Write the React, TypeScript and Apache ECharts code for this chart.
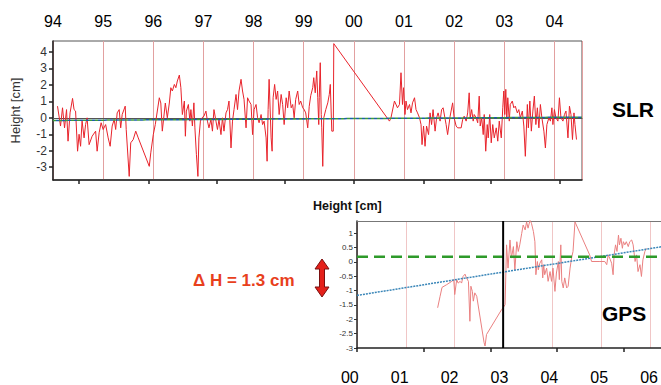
import React, { useEffect, useRef } from 'react';
import * as echarts from 'echarts';

// ---------- SLR (top panel) ----------
const SLR_POINTS: [number, number][] = [
  [1994.09, 0.71], [1994.15, -0.5], [1994.19, 0.61], [1994.23, -0.61], [1994.27, 0.5], [1994.30, -1.42], [1994.34, 0.3], [1994.39, 1.18],
  [1994.42, 0.5], [1994.45, 0.41], [1994.49, -2.03], [1994.52, -1.0], [1994.55, -1.73], [1994.58, -0.2], [1994.62, -1.22], [1994.65, -0.41],
  [1994.68, 0], [1994.72, -1.63], [1994.78, -1.12], [1994.85, -0.81], [1994.88, -2.03], [1994.92, -0.91], [1994.96, -0.3], [1995.00, -0.71],
  [1995.05, -0.41], [1995.10, -1.22], [1995.14, -1.73], [1995.18, -0.5], [1995.22, -0.1], [1995.25, -0.71], [1995.28, 0.3], [1995.32, 0.5],
  [1995.35, -0.61], [1995.38, 0.2], [1995.44, 0.71], [1995.46, -0.71], [1995.52, -3.56], [1995.55, -1.52], [1995.60, -1.32], [1995.65, -0.81],
  [1995.70, -1.22], [1995.92, -2.95], [1995.95, -2.13], [1996.00, -1.02], [1996.04, -0.41], [1996.12, 1.22], [1996.15, 0.9], [1996.18, -0.81],
  [1996.24, 0.9], [1996.28, 0], [1996.32, 0.9], [1996.35, 1.83], [1996.38, 1.63], [1996.42, 2.03], [1996.45, 1.83], [1996.48, 2.24],
  [1996.52, 2.6], [1996.55, 1.83], [1996.58, 0.2], [1996.62, 1.02], [1996.64, -1.12], [1996.66, 0.41], [1996.70, 0.81], [1996.73, -0.2],
  [1996.75, 0.5], [1996.78, -0.5], [1996.81, 0.91], [1996.83, -0.61], [1996.86, -2.24], [1996.89, -3.56], [1996.91, -1.22], [1996.94, -0.2],
  [1996.97, 0], [1997.01, 0.1], [1997.05, 0.41], [1997.08, -0.2], [1997.11, -0.61], [1997.15, -0.1], [1997.18, -0.81], [1997.21, 0.5],
  [1997.25, -0.2], [1997.28, -0.71], [1997.31, -0.1], [1997.35, -1.02], [1997.38, 0], [1997.41, -0.81], [1997.45, 0.3], [1997.48, 0.5],
  [1997.51, 1.02], [1997.55, -1.83], [1997.58, -0.2], [1997.61, 0.5], [1997.65, 1.42], [1997.68, 0.5], [1997.71, 1.63], [1997.75, 2.34],
  [1997.78, 1.63], [1997.81, 1.12], [1997.85, -0.61], [1997.88, 1.22], [1997.91, 1.02], [1997.95, 0.81], [1997.98, -1.02], [1998.01, 0.5],
  [1998.05, 0.81], [1998.08, 0], [1998.11, -0.3], [1998.15, 0.2], [1998.18, -0.41], [1998.21, -0.2], [1998.25, -1.22], [1998.27, -2.64],
  [1998.29, 0.5], [1998.31, 2.34], [1998.35, -1.22], [1998.37, -2.03], [1998.39, 1.22], [1998.42, 2.03], [1998.45, 1.12], [1998.48, 1.63],
  [1998.51, 0.2], [1998.55, 1.42], [1998.58, 0.81], [1998.61, -0.41], [1998.65, 1.22], [1998.68, 0.61], [1998.71, 1.63], [1998.75, 0.61],
  [1998.78, 0.81], [1998.81, 0], [1998.84, 1.12], [1998.88, 1.63], [1998.91, 0.81], [1998.94, 1.02], [1998.98, 0.61], [1999.01, 0.5],
  [1999.04, 0.3], [1999.08, -0.61], [1999.11, 0.7], [1999.14, 1.35], [1999.18, 1.83], [1999.20, 2.44], [1999.23, 1.52], [1999.26, 2.85],
  [1999.28, 1.22], [1999.30, -0.41], [1999.31, 1.22], [1999.33, 3.35], [1999.35, 0.2], [1999.36, -0.61], [1999.38, -2.95], [1999.40, 0],
  [1999.44, 0.5], [1999.48, 0.91], [1999.51, 1.42], [1999.53, 2.03], [1999.56, -0.81], [1999.59, -0.81], [1999.60, 4.51], [2000.71, -0.2],
  [2000.74, 0], [2000.81, 1.02], [2000.87, 0.61], [2000.91, 0.81], [2000.94, 2.74], [2000.97, 0.81], [2000.99, 1.83], [2001.02, 0.2],
  [2001.04, 1.02], [2001.07, 0.5], [2001.11, 0.81], [2001.14, 0.3], [2001.17, 0.91], [2001.21, 1.22], [2001.24, 0.5], [2001.27, 0.3],
  [2001.31, 0], [2001.34, -0.41], [2001.36, -1.63], [2001.39, -0.5], [2001.42, -1.73], [2001.45, -0.5], [2001.49, -1.02], [2001.52, 0.3],
  [2001.55, -0.41], [2001.58, 0.5], [2001.62, -0.81], [2001.65, 0], [2001.68, 0.3], [2001.72, -0.2], [2001.75, 0.5], [2001.78, 0.61],
  [2001.84, -0.41], [2001.87, -1.02], [2001.92, 0.1], [2001.97, 0.91], [2002.00, 0], [2002.04, -0.5], [2002.07, -0.61], [2002.14, -0.61],
  [2002.17, -0.1], [2002.20, 0.1], [2002.24, -0.2], [2002.27, 0.3], [2002.30, 1.52], [2002.32, 0], [2002.35, 0.5], [2002.38, -0.2],
  [2002.40, 0.2], [2002.44, 0], [2002.47, -0.3], [2002.50, 1.32], [2002.52, -0.5], [2002.55, 0], [2002.58, -1.02], [2002.60, 0.2],
  [2002.63, -2.03], [2002.66, -0.41], [2002.68, -1.22], [2002.71, 0.2], [2002.74, -1.52], [2002.77, -0.41], [2002.80, -1.22], [2002.84, -0.61],
  [2002.87, -1.42], [2002.90, -0.2], [2002.94, -1.22], [2002.97, 0.61], [2002.99, 1.63], [2003.01, 0.2], [2003.03, 1.73], [2003.05, 0],
  [2003.07, 1.22], [2003.10, -0.2], [2003.12, 0.81], [2003.16, 1.02], [2003.19, 0.61], [2003.22, 0.71], [2003.26, 0.3], [2003.29, 0.5],
  [2003.32, 0], [2003.36, 0.41], [2003.39, -0.5], [2003.42, -2.34], [2003.46, 0.81], [2003.48, -0.61], [2003.51, 1.02], [2003.54, -0.81],
  [2003.57, 0.41], [2003.60, 1.32], [2003.63, -0.41], [2003.66, 0.61], [2003.69, -0.61], [2003.72, 0.81], [2003.75, 0], [2003.79, -0.81],
  [2003.82, -1.83], [2003.85, -0.41], [2003.89, 0], [2003.92, -0.2], [2003.95, 0.61], [2003.97, -0.41], [2004.00, 0.5], [2004.03, 0],
  [2004.07, -0.2], [2004.10, 1.22], [2004.13, 0], [2004.17, -0.2], [2004.20, 0.2], [2004.23, 0.41], [2004.27, -1.22], [2004.30, 0.71],
  [2004.33, 0.2], [2004.36, -1.32], [2004.39, 0.3], [2004.41, -0.41], [2004.44, -1.32],
];
const SLR_TREND: [number, number][] = [[1994, -0.16], [2004.55, 0.04]];
const SLR_X_MIN = 1994;
const SLR_X_MAX = 2004.55;
const SLR_Y_MIN = -3.78;
const SLR_Y_MAX = 4.67;
const SLR_YEAR_TICKS = [1994, 1995, 1996, 1997, 1998, 1999, 2000, 2001, 2002, 2003, 2004];
const SLR_BOTTOM_TICKS = [1994.52, 1995.9, 1997.27, 1998.63, 1999.99, 2001.39, 2002.74, 2004.1];
const SLR_Y_TICKS = [-3, -2, -1, 0, 1, 2, 3, 4];

// ---------- GPS (bottom panel) ----------
const GPS_POINTS: [number, number][] = [
  [2001.65, -1.6], [2001.70, -1.2], [2001.74, -0.89], [2001.83, -0.8], [2001.94, -0.68], [2001.98, -0.62], [2002.00, -1.14], [2002.04, -0.62],
  [2002.07, -0.74], [2002.11, -0.68], [2002.14, -0.74], [2002.17, -0.51], [2002.21, -0.43], [2002.24, -0.56], [2002.28, -0.68], [2002.31, -2.07],
  [2002.33, -0.85], [2002.36, -1.03], [2002.38, -1.37], [2002.41, -1.08], [2002.45, -1.2], [2002.60, -2.81], [2002.62, -2.93], [2002.65, -2.53],
  [2002.96, -1.66], [2003.01, -1.55], [2003.03, -1.49], [2003.06, 0.59], [2003.09, -0.22], [2003.13, 0.76], [2003.16, 0.13], [2003.20, 0.53],
  [2003.23, -0.28], [2003.27, 0.7], [2003.30, 0.36], [2003.33, 0.59], [2003.37, 0.99], [2003.40, 1.28], [2003.44, 1.11], [2003.47, 1.39],
  [2003.50, 1.17], [2003.54, 1.45], [2003.57, 1.34], [2003.61, 1.05], [2003.64, 0.7], [2003.66, -0.45], [2003.69, 0.01], [2003.71, -0.28],
  [2003.74, -0.05], [2003.78, 0.07], [2003.80, -0.56], [2003.82, -0.1], [2003.84, -0.45], [2003.88, -0.22], [2003.91, -0.68], [2003.95, -0.34],
  [2003.98, -0.68], [2004.01, -0.22], [2004.05, -1.03], [2004.08, -0.39], [2004.12, 0.01], [2004.14, -0.62], [2004.17, 0.59], [2004.19, -0.68],
  [2004.22, -0.91], [2004.25, -0.56], [2004.29, -0.91], [2004.32, -0.85], [2004.36, -0.22], [2004.39, 0.13], [2004.42, 0.36], [2004.46, 1.39],
  [2004.76, 0.24], [2004.80, 0.01], [2004.97, 0.01], [2005.07, 0.01], [2005.11, -0.1], [2005.14, 0.24], [2005.17, 0.13], [2005.21, -0.05],
  [2005.24, -0.45], [2005.26, 0.24], [2005.29, 0.59], [2005.32, 0.36], [2005.35, 0.93], [2005.37, 0.59], [2005.40, 0.82], [2005.43, 0.47],
  [2005.45, 0.7], [2005.48, 0.59], [2005.51, 0.7], [2005.55, 0.53], [2005.58, 0.7], [2005.62, 0.76], [2005.65, 0.59], [2005.69, 0.01],
  [2005.72, 0.24], [2005.75, -0.34], [2005.79, -0.1], [2005.82, -0.51], [2005.85, 0.07], [2005.89, 0.36], [2005.92, 0.47],
];
const GPS_X_MIN = 2000;
const GPS_X_MAX = 2006.22;
const GPS_Y_MIN = -3;
const GPS_Y_MAX = 1.42;
const GPS_TREND: [number, number][] = [[2000, -1.17], [2006.22, 0.52]];
const GPS_MEAN: [number, number][] = [[2000, 0.18], [2006.22, 0.18]];
const GPS_BREAK: [number, number][] = [[2002.99, -3], [2002.99, 1.42]];
const GPS_Y_TICKS = [-3, -2.5, -2, -1.5, -1, -0.5, 0, 0.5, 1];
const GPS_BOTTOM_TICKS = [2000, 2001.37, 2002.74, 2004.09, 2005.46];
const GPS_YEAR_LABELS = [2000, 2001, 2002, 2003, 2004, 2005, 2006];
// the slide's year captions under the GPS panel sit on their own (slightly wider) scale
const GPS_LABEL_MIN = 1999.0;
const GPS_LABEL_MAX = 2006.165;

const FONT = '"Liberation Sans", Arial, Helvetica, sans-serif';
const yy = (v: number) => String(Math.round(v) % 100).padStart(2, '0');

export default function App() {
  const ref = useRef<HTMLDivElement>(null);
  useEffect(() => {
    if (!ref.current) return;
    const chart = echarts.init(ref.current, undefined, { renderer: 'svg' });
    const axisDark = { color: '#222', width: 1.5 };
    const option: any = {
      animation: false,
      backgroundColor: '#ffffff',
      textStyle: { fontFamily: FONT },
      grid: [
        { left: 53, top: 41, width: 529, height: 139, show: true, borderColor: '#555', borderWidth: 1 },
        { left: 357, top: 221, right: 0, height: 127, show: false },
        { left: 299.9, top: 348, right: 0, height: 1 },
      ],
      xAxis: [
        {
          gridIndex: 0, type: 'value', position: 'top', min: SLR_X_MIN, max: SLR_X_MAX, interval: 1,
          axisLine: { show: true, lineStyle: { color: '#555', width: 1 } },
          axisTick: { show: false },
          axisLabel: { customValues: SLR_YEAR_TICKS, formatter: yy, fontSize: 16, color: '#000', margin: 12, fontFamily: FONT },
          splitLine: { show: true, lineStyle: { color: '#e2a0a0', width: 1 } },
        },
        {
          gridIndex: 0, type: 'value', position: 'bottom', min: SLR_X_MIN, max: SLR_X_MAX,
          axisLine: { show: true, onZero: false, lineStyle: axisDark },
          axisTick: { show: true, customValues: SLR_BOTTOM_TICKS, length: 4, lineStyle: axisDark },
          axisLabel: { show: false },
          splitLine: { show: false },
        },
        {
          gridIndex: 1, type: 'value', position: 'top', min: GPS_X_MIN, max: GPS_X_MAX, interval: 1,
          axisLine: { show: true, onZero: false, lineStyle: { color: '#777', width: 1 } },
          axisTick: { show: false }, axisLabel: { show: false },
          splitLine: { show: true, lineStyle: { color: '#f0c6c6', width: 1 } },
        },
        {
          gridIndex: 1, type: 'value', position: 'bottom', min: GPS_X_MIN, max: GPS_X_MAX,
          axisLine: { show: true, onZero: false, lineStyle: axisDark },
          axisTick: { show: true, customValues: GPS_BOTTOM_TICKS, length: 4, lineStyle: axisDark },
          axisLabel: { show: false },
          splitLine: { show: false },
        },
        {
          gridIndex: 2, type: 'value', position: 'bottom', min: GPS_LABEL_MIN, max: GPS_LABEL_MAX,
          axisLine: { show: false }, axisTick: { show: false },
          axisLabel: { customValues: GPS_YEAR_LABELS, formatter: yy, fontSize: 16, color: '#000', margin: 21, fontFamily: FONT },
          splitLine: { show: false },
        },
      ],
      yAxis: [
        {
          gridIndex: 0, type: 'value', min: SLR_Y_MIN, max: SLR_Y_MAX,
          axisLine: { show: true, onZero: false, lineStyle: axisDark },
          axisTick: { show: true, customValues: SLR_Y_TICKS, length: 4, lineStyle: axisDark },
          axisLabel: { customValues: SLR_Y_TICKS, fontSize: 12, color: '#333', margin: 6, fontFamily: FONT },
          splitLine: { show: false },
          name: 'Height [cm]', nameLocation: 'middle', nameGap: 31,
          nameTextStyle: { fontSize: 13, color: '#333', fontFamily: FONT },
        },
        {
          gridIndex: 1, type: 'value', min: GPS_Y_MIN, max: GPS_Y_MAX,
          axisLine: { show: true, onZero: false, lineStyle: axisDark },
          axisTick: { show: true, customValues: GPS_Y_TICKS, length: 3, lineStyle: { color: '#333', width: 1 } },
          axisLabel: { customValues: GPS_Y_TICKS, fontSize: 8, color: '#333', margin: 4, fontFamily: FONT },
          splitLine: { show: false },
        },
        { gridIndex: 2, type: 'value', min: 0, max: 1, show: false },
      ],
      series: [
        {
          type: 'line', xAxisIndex: 1, yAxisIndex: 0, data: SLR_POINTS, symbol: 'none',
          lineStyle: { color: '#e8232b', width: 1 }, z: 2,
        },
        {
          type: 'line', xAxisIndex: 1, yAxisIndex: 0, data: SLR_TREND, symbol: 'none',
          lineStyle: { color: '#3c9a3c', width: 1.5, type: [3, 3] }, z: 3,
        },
        {
          type: 'line', xAxisIndex: 1, yAxisIndex: 0, data: SLR_TREND, symbol: 'none',
          lineStyle: { color: '#1d5fa8', width: 1.5, type: [3, 3], dashOffset: 3 }, z: 3,
        },
        {
          type: 'line', xAxisIndex: 3, yAxisIndex: 1, data: GPS_POINTS, symbol: 'none',
          lineStyle: { color: '#ea8080', width: 1 }, z: 2,
        },
        {
          type: 'line', xAxisIndex: 3, yAxisIndex: 1, data: GPS_TREND, symbol: 'none',
          lineStyle: { color: '#3a86b8', width: 1.5, type: [2, 1] }, z: 3,
        },
        {
          type: 'line', xAxisIndex: 3, yAxisIndex: 1, data: GPS_MEAN, symbol: 'none',
          lineStyle: { color: '#2e9a2a', width: 2.5, type: [11, 6] }, z: 4,
        },
        {
          type: 'line', xAxisIndex: 3, yAxisIndex: 1, data: GPS_BREAK, symbol: 'none',
          lineStyle: { color: '#000', width: 2 }, z: 5,
        },
      ],
      graphic: [
        { type: 'text', x: 612, y: 109, style: { text: 'SLR', fontSize: 21, fontWeight: 'bold', fontFamily: FONT, fill: '#000', verticalAlign: 'middle' } },
        { type: 'text', x: 602, y: 313, style: { text: 'GPS', fontSize: 21, fontWeight: 'bold', fontFamily: FONT, fill: '#000', verticalAlign: 'middle' } },
        { type: 'text', x: 193, y: 280, style: { text: 'Δ H = 1.3 cm', fontSize: 17, fontWeight: 'bold', fontFamily: FONT, fill: '#e8401c', verticalAlign: 'middle' } },
        { type: 'text', x: 313, y: 206, style: { text: 'Height [cm]', fontSize: 12.5, fontWeight: 'bold', fontFamily: FONT, fill: '#111', verticalAlign: 'middle' } },
        {
          type: 'polygon',
          shape: {
            points: [[322, 259], [329, 269], [324.5, 269], [324.5, 287], [329, 287], [322, 297], [315, 287], [319.5, 287], [319.5, 269], [315, 269]],
          },
          style: { fill: '#e4201a', stroke: '#7a1010', lineWidth: 1 },
        },
      ],
    };
    chart.setOption(option);
    return () => chart.dispose();
  }, []);
  return (
    <div
      ref={ref}
      style={{ position: 'fixed', left: 0, top: 0, width: 661, height: 385, background: '#fff' }}
    />
  );
}
